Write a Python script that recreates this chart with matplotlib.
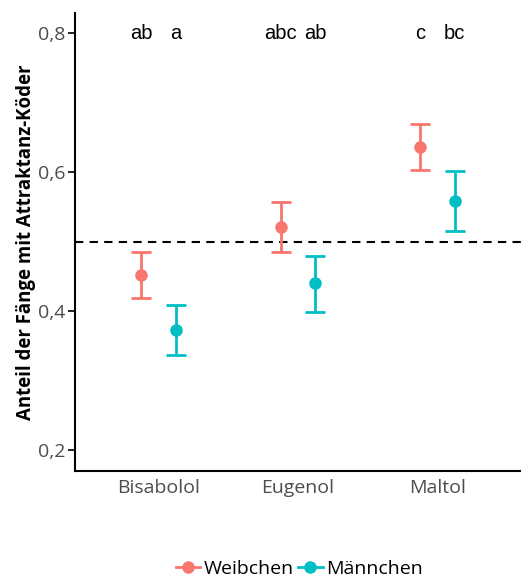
import numpy as np
import matplotlib.pyplot as plt
from matplotlib.lines import Line2D

# Anteil der Fänge je Köder, getrennt nach Geschlecht
koeder = ['Bisabolol', 'Eugenol', 'Maltol']
weibchen_mittel = [0.452, 0.521, 0.636]
weibchen_unten = [0.419, 0.485, 0.603]
weibchen_oben = [0.485, 0.557, 0.669]
maennchen_mittel = [0.373, 0.440, 0.558]
maennchen_unten = [0.337, 0.399, 0.515]
maennchen_oben = [0.409, 0.479, 0.601]
buchstaben_w = ['ab', 'abc', 'c']
buchstaben_m = ['a', 'ab', 'bc']

rot = '#F8766D'
tuerkis = '#00BFC4'


def main():
    fig = plt.figure(figsize=(5.21, 5.79), dpi=100)
    ax = fig.add_axes([0.144, 0.1865, 0.856, 0.791])

    x = np.arange(1, len(koeder) + 1)
    dodge = 0.125

    ax.axhline(0.5, color='black', linestyle=(0, (4, 3)), linewidth=1.5, zorder=1)

    for pos, m, lo, hi, col in [
        (x - dodge, weibchen_mittel, weibchen_unten, weibchen_oben, rot),
        (x + dodge, maennchen_mittel, maennchen_unten, maennchen_oben, tuerkis),
    ]:
        m = np.array(m)
        yerr = [m - np.array(lo), np.array(hi) - m]
        ax.errorbar(pos, m, yerr=yerr, fmt='o', color=col, markersize=8,
                    elinewidth=2, capsize=7, capthick=2, zorder=3)

    # Signifikanzbuchstaben oben
    for i in range(len(koeder)):
        ax.text(x[i] - dodge, 0.8, buchstaben_w[i], ha='center', va='center',
                fontsize=14.5, family='Liberation Sans')
        ax.text(x[i] + dodge, 0.8, buchstaben_m[i], ha='center', va='center',
                fontsize=14.5, family='Liberation Sans')

    ax.set_xlim(0.4, 3.6)
    ax.set_ylim(0.17, 0.829)
    ax.set_xticks(x)
    ax.set_xticklabels(koeder, fontsize=14, color='#4D4D4D', family='Open Sans')
    ax.set_yticks([0.2, 0.4, 0.6, 0.8])
    ax.set_yticklabels(['0,2', '0,4', '0,6', '0,8'], fontsize=14,
                       color='#4D4D4D', family='Open Sans')
    ax.tick_params(axis='x', length=0, pad=6)
    ax.tick_params(axis='y', length=5, width=1.2, pad=2)

    for side in ['top', 'right']:
        ax.spines[side].set_visible(False)
    for side in ['left', 'bottom']:
        ax.spines[side].set_linewidth(1.5)

    ax.set_ylabel('Anteil der Fänge mit Attraktanz-Köder', fontsize=13.4,
                  fontweight='bold', family='Open Sans')
    ax.yaxis.set_label_coords(-0.087, 0.5)

    handles = [
        Line2D([], [], color=rot, marker='o', markersize=8, linewidth=2),
        Line2D([], [], color=tuerkis, marker='o', markersize=8, linewidth=2),
    ]
    fig.legend(handles, ['Weibchen', 'Männchen'], loc='lower center',
               bbox_to_anchor=(0.575, -0.029), ncol=2, frameon=False,
               handlelength=1.25, handletextpad=0.2, columnspacing=0.2,
               prop={'family': 'Open Sans', 'size': 14})

    fig.savefig('out.png', dpi=100)


if __name__ == '__main__':
    main()
